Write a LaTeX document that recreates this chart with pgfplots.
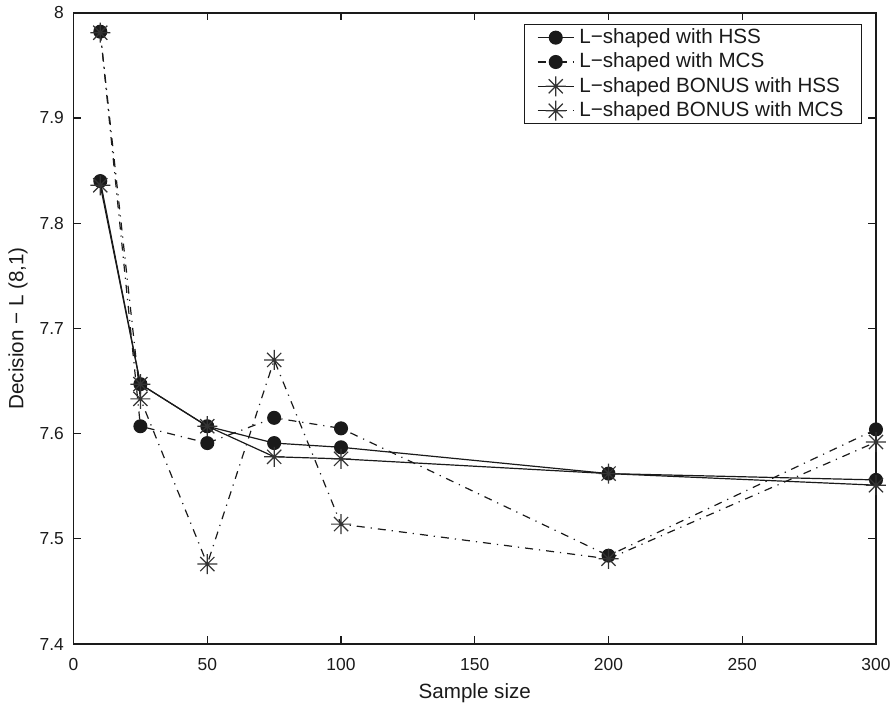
\documentclass[border=0pt]{standalone}
\usepackage{fontspec}
\setmainfont{Liberation Sans}
\usepackage{pgfplots}
\pgfplotsset{compat=1.18}

% 8-armed asterisk like the MATLAB '*' marker
\pgfdeclareplotmark{ast8}{%
  \pgfpathmoveto{\pgfqpoint{-\pgfplotmarksize}{0pt}}%
  \pgfpathlineto{\pgfqpoint{\pgfplotmarksize}{0pt}}%
  \pgfpathmoveto{\pgfqpoint{0pt}{-\pgfplotmarksize}}%
  \pgfpathlineto{\pgfqpoint{0pt}{\pgfplotmarksize}}%
  \pgfpathmoveto{\pgfqpoint{-0.707\pgfplotmarksize}{-0.707\pgfplotmarksize}}%
  \pgfpathlineto{\pgfqpoint{0.707\pgfplotmarksize}{0.707\pgfplotmarksize}}%
  \pgfpathmoveto{\pgfqpoint{-0.707\pgfplotmarksize}{0.707\pgfplotmarksize}}%
  \pgfpathlineto{\pgfqpoint{0.707\pgfplotmarksize}{-0.707\pgfplotmarksize}}%
  \pgfusepathqstroke}

\definecolor{ink}{HTML}{1A1A1A}
\definecolor{starink}{HTML}{333333}

\begin{document}
\begin{tikzpicture}
\begin{axis}[
  scale only axis,
  width=401pt, height=315.5pt,
  xmin=0, xmax=300, ymin=7.4, ymax=8,
  xtick={0,50,...,300},
  ytick={7.4,7.5,...,8.01},
  tick align=inside,
  major tick length=3.8pt,
  axis line style={line width=0.8pt, ink},
  every tick/.style={line width=0.6pt, ink},
  tick label style={font=\fontsize{8.7}{10}\selectfont, text=ink},
  /pgf/number format/assume math mode=true,
  yticklabel style={/pgf/number format/fixed, /pgf/number format/precision=1, xshift=-1.3pt},
  xticklabel style={yshift=-3.5pt},
  xlabel={Sample size},
  ylabel={Decision − L (8,1)},
  label style={font=\fontsize{10.3}{12}\selectfont, text=ink},
  xlabel style={at={(axis description cs:0.5,-0.078)}, anchor=center},
  ylabel style={at={(axis description cs:-0.0692,0.5)}, anchor=center},
  legend style={at={(rel axis cs:0.9826,0.982)}, anchor=north east,
                font=\fontsize{10.3}{12.4}\selectfont, text=ink,
                draw=ink, line width=0.6pt, inner xsep=6.5pt, inner ysep=0pt,
                row sep=-0.8pt,
                nodes={inner xsep=2.5pt}},
  legend cell align=left,
  legend image code/.code={%
    \draw[mark repeat=2, mark phase=2] plot coordinates {(0pt,0pt)(9pt,0pt)(18pt,0pt)};},
]
% L-shaped with HSS
\addplot[ink, line width=0.6pt, mark=*, mark size=3.2pt, mark options={solid, fill=ink}]
  coordinates {(10,7.840)(25,7.647)(50,7.607)(75,7.591)(100,7.587)(200,7.562)(300,7.556)};
% L-shaped with MCS
\addplot[ink, line width=0.6pt, dash pattern=on 4pt off 3pt on 0.6pt off 3pt,
  mark=*, mark size=3.2pt, mark options={solid, fill=ink}]
  coordinates {(10,7.982)(25,7.607)(50,7.591)(75,7.615)(100,7.605)(200,7.484)(300,7.604)};
% L-shaped BONUS with HSS
\addplot[ink, line width=0.6pt, mark=ast8, mark size=5pt, mark options={solid, starink, line width=0.6pt}]
  coordinates {(10,7.836)(25,7.647)(50,7.607)(75,7.578)(100,7.576)(200,7.562)(300,7.551)};
% L-shaped BONUS with MCS
\addplot[ink, line width=0.6pt, dash pattern=on 4pt off 3pt on 0.6pt off 3pt,
  mark=ast8, mark size=5pt, mark options={solid, starink, line width=0.6pt}]
  coordinates {(10,7.981)(25,7.633)(50,7.476)(75,7.670)(100,7.514)(200,7.481)(300,7.592)};
\legend{L−shaped with HSS, L−shaped with MCS, L−shaped BONUS with HSS, L−shaped BONUS with MCS}
\coordinate (sw) at (rel axis cs:0,0);
\coordinate (ne) at (rel axis cs:1,1);
\end{axis}
\pgfresetboundingbox
\path ([shift={(-36.75pt,-32.65pt)}]sw) rectangle ([shift={(9.5pt,6.35pt)}]ne);
\end{tikzpicture}
\end{document}
